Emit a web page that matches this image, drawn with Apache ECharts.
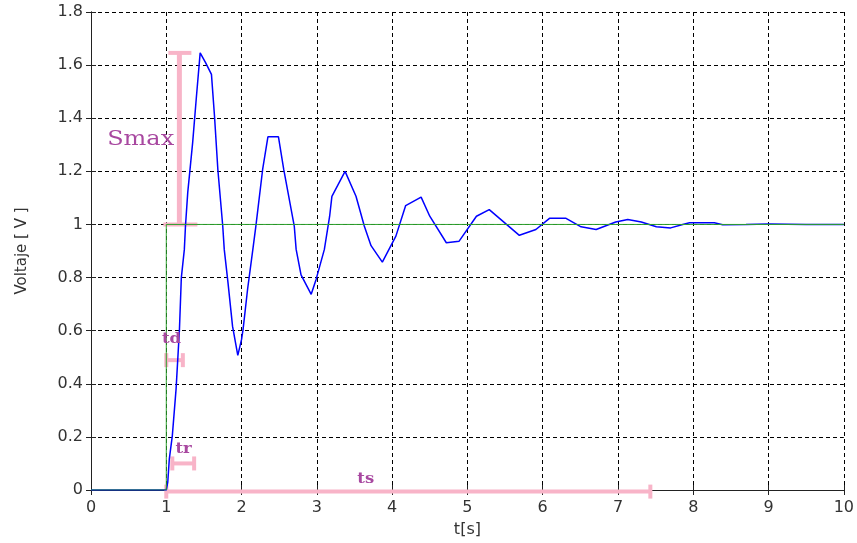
<!DOCTYPE html>
<html>
<head>
<meta charset="utf-8">
<script src="https://cdn.jsdelivr.net/npm/echarts@6/dist/echarts.min.js"></script>
<style>html,body{margin:0;padding:0;background:#fff;}#c{width:857px;height:543px;}</style>
</head>
<body>
<div id="c"></div>
<script>
// Response (blue) : time [s], voltage [V]
const respT = [0,1,1.02,1.04,1.08,1.13,1.175,1.20,1.24,1.255,1.285,1.35,1.40,1.45,1.52,1.60,1.64,1.685,1.75,1.77,1.82,1.88,1.95,2.0,2.02,2.08,2.15,2.19,2.28,2.35,2.49,2.56,2.70,2.725,2.79,2.925,2.99,3.10,3.17,3.20,3.375,3.52,3.63,3.72,3.87,4.05,4.18,4.385,4.50,4.72,4.89,5.12,5.29,5.69,5.91,6.09,6.31,6.51,6.71,6.97,7.13,7.31,7.51,7.70,7.86,7.95,8.28,8.39,8.7,9.0,9.5,10];
const respV = [0,0,0.03,0.116,0.204,0.38,0.605,0.80,0.906,0.994,1.12,1.307,1.48,1.646,1.61,1.565,1.41,1.207,0.994,0.906,0.78,0.617,0.507,0.567,0.605,0.756,0.906,0.994,1.207,1.33,1.33,1.207,0.994,0.906,0.81,0.737,0.793,0.906,1.031,1.106,1.20,1.106,0.994,0.92,0.858,0.956,1.071,1.103,1.031,0.931,0.937,1.031,1.056,0.959,0.981,1.023,1.023,0.991,0.981,1.009,1.019,1.009,0.991,0.987,1.0,1.006,1.006,0.999,1.0,1.002,1.0,1.0];
// Step input (green)
const stepT = [0,1,1,10];
const stepV = [0,0,1,1];
// Annotation bars: [x1, y1, x2, y2]
const annoSegs = [
  [1.174, 1.0, 1.174, 1.646],   // Smax
  [1.0, 0.489, 1.22, 0.489],    // td
  [1.08, 0.10, 1.37, 0.10],     // tr
  [1.0, -0.006, 7.43, -0.006]   // ts
];
const annoNames = ['Smax','td','tr','ts'];
const annoLabelPos = [[0.66,1.32],[1.07,0.568],[1.23,0.154],[3.65,0.041]];
// Axis ticks
const xTicks = [0,1,2,3,4,5,6,7,8,9,10];
const yTicks = [0,0.2,0.4,0.6,0.8,1,1.2,1.4,1.6,1.8];

const chart = echarts.init(document.getElementById('c'));
const pink = '#f8b4c8';
const purple = '#a848a0';
const txt = '#333';
const zip = (a,b) => a.map((v,i)=>[v,b[i]]);

const axisLineStyle = {lineStyle:{color:'#222',width:1}};
const grid = {left:91,right:11,top:12,bottom:52};

function annoRender(params, api){
  const i = params.dataIndex;
  const s = annoSegs[i];
  const p1 = api.coord([s[0],s[1]]);
  const p2 = api.coord([s[2],s[3]]);
  const vertical = Math.abs(p1[0]-p2[0]) < 1;
  const ch = [];
  const lw = vertical ? 5 : 4;
  ch.push({type:'line',shape:{x1:p1[0],y1:p1[1],x2:p2[0],y2:p2[1]},style:{stroke:pink,lineWidth:lw}});
  if (vertical) {
    ch.push({type:'line',shape:{x1:p1[0]-16,y1:p1[1],x2:p1[0]+18,y2:p1[1]},style:{stroke:pink,lineWidth:4}});
    ch.push({type:'line',shape:{x1:p2[0]-11,y1:p2[1],x2:p2[0]+12,y2:p2[1]},style:{stroke:pink,lineWidth:4}});
  } else {
    const h = 7;
    ch.push({type:'line',shape:{x1:p1[0],y1:p1[1]-h,x2:p1[0],y2:p1[1]+h},style:{stroke:pink,lineWidth:4}});
    ch.push({type:'line',shape:{x1:p2[0],y1:p2[1]-h,x2:p2[0],y2:p2[1]+h},style:{stroke:pink,lineWidth:4}});
  }
  return {type:'group',children:ch};
}
function labelRender(params, api){
  const i = params.dataIndex;
  const p = api.coord(annoLabelPos[i]);
  const big = annoNames[i] === 'Smax';
  return {type:'text',x:p[0],y:p[1],scaleX: big ? 1.2 : 1.1,style:{
    text:annoNames[i],
    fill:purple,
    font: big ? 'normal 20px "DejaVu Serif"' : 'bold 15px "DejaVu Serif"',
    align:'center',verticalAlign:'middle'
  }};
}

chart.setOption({
  animation:false,
  backgroundColor:'#fff',
  grid:grid,
  xAxis:[{
    type:'value',min:0,max:10,interval:1,
    name:'t[s]',nameLocation:'middle',nameGap:32,
    nameTextStyle:{fontFamily:'DejaVu Sans',fontSize:16,color:txt},
    axisLine:axisLineStyle,
    axisTick:{inside:true,length:5,lineStyle:{color:'#222'}},
    axisLabel:{fontFamily:'DejaVu Sans',fontSize:16,color:txt,margin:10,
      formatter:v=>String(+v.toFixed(1))},
    splitLine:{show:true,lineStyle:{color:'#000',width:1,type:[4,3]}}
  },{
    type:'value',min:0,max:10,interval:1,position:'top',
    axisLine:axisLineStyle,
    axisTick:{inside:true,length:5,lineStyle:{color:'#222'}},
    axisLabel:{show:false},splitLine:{show:false}
  }],
  yAxis:[{
    type:'value',min:0,max:1.8,interval:0.2,
    name:'Voltaje [ V ]',nameLocation:'middle',nameGap:61,
    nameTextStyle:{fontFamily:'DejaVu Sans',fontSize:15,color:txt},
    axisLine:{show:true,lineStyle:{color:'#222',width:1}},
    axisTick:{show:true,inside:true,length:5,lineStyle:{color:'#222'}},
    axisLabel:{fontFamily:'DejaVu Sans',fontSize:16,color:txt,margin:8,
      formatter:v=>String(+v.toFixed(1))},
    splitLine:{show:true,lineStyle:{color:'#000',width:1,type:[4,3]}}
  },{
    type:'value',min:0,max:1.8,interval:0.2,position:'right',
    axisLine:{show:true,lineStyle:{color:'#222',width:1}},
    axisTick:{show:true,inside:true,length:5,lineStyle:{color:'#222'}},
    axisLabel:{show:false},splitLine:{show:false}
  }],
  series:[
    {type:'custom',name:'annot',renderItem:annoRender,data:annoSegs.map((s,i)=>[s[0],s[1],s[2],s[3]]),
      clip:false,z:1,silent:true},
    {type:'line',name:'resp',data:zip(respT,respV),showSymbol:false,symbol:'none',
      lineStyle:{color:'#0000ff',width:1.5},z:2},
    {type:'line',name:'step',data:zip(stepT,stepV),showSymbol:false,symbol:'none',
      lineStyle:{color:'#2ca02c',width:1},z:3},
    {type:'custom',name:'labels',renderItem:labelRender,data:annoLabelPos.map(p=>p.slice()),
      clip:false,z:4,silent:true}
  ]
});
</script>
</body>
</html>
